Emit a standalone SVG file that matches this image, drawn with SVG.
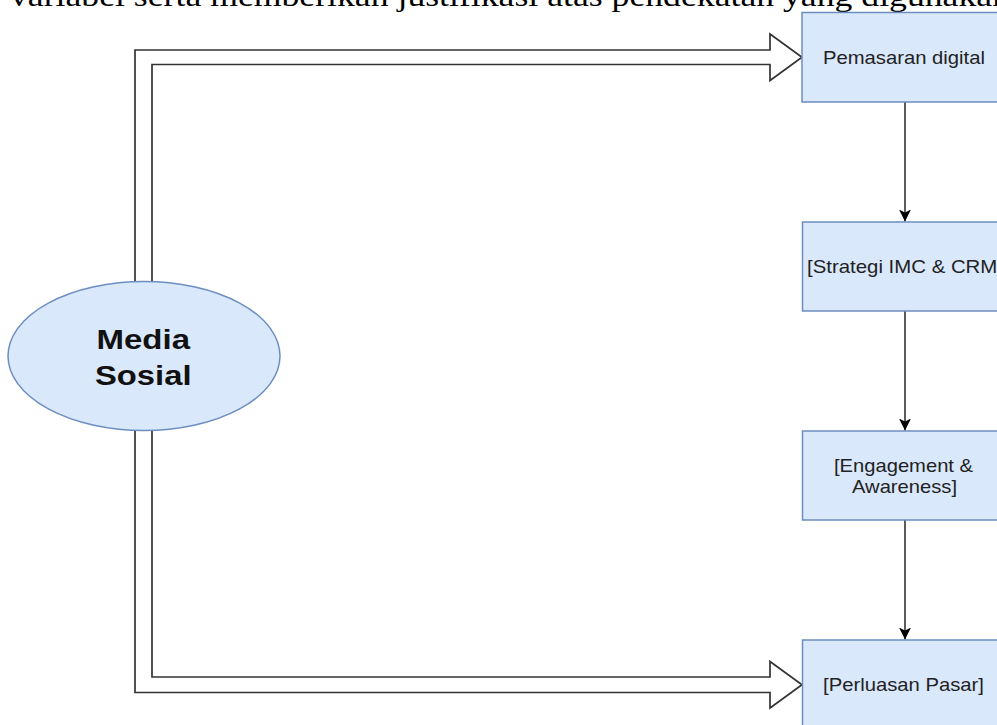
<svg xmlns="http://www.w3.org/2000/svg" width="997" height="725" viewBox="0 0 997 725">
<style>
.box{fill:#dae8fc;stroke:#6c8ebf;stroke-width:1.5}
.lbl{font-family:"Liberation Sans",Arial,sans-serif;font-size:19px;fill:#222}
.big{font-family:"Liberation Sans",Arial,sans-serif;font-size:28px;font-weight:bold;fill:#111}
.flex{fill:#fff;stroke:#333;stroke-width:1.7;stroke-linejoin:miter}
.conn{stroke:#333;stroke-width:1.6;fill:none}
</style>
<defs>
<marker id="ah" viewBox="0 0 12 12" refX="12" refY="6" markerWidth="12" markerHeight="12" markerUnits="userSpaceOnUse" orient="auto">
<path d="M0,0 L12,6 L0,12 L3,6 Z" fill="#000"/>
</marker>
</defs>
<rect width="997" height="725" fill="#fff"/>
<text x="10" y="6" font-family="'Liberation Serif','Times New Roman',serif" font-size="30" fill="#000" textLength="1000" lengthAdjust="spacingAndGlyphs">variabel serta memberikan justifikasi atas pendekatan yang digunakan</text>
<g id="connectors">
<path class="flex" d="M135,290 V50 H770 V34 L802,57.25 L770,80.5 V64.5 H152 V290"/>
<path class="flex" d="M152,420 V677 H770 V661.5 L802,684.75 L770,708 V692.5 H135 V420"/>
<line class="conn" x1="905" y1="102" x2="905" y2="221.5" marker-end="url(#ah)"/>
<line class="conn" x1="905" y1="311" x2="905" y2="430.5" marker-end="url(#ah)"/>
<line class="conn" x1="905" y1="520" x2="905" y2="639.5" marker-end="url(#ah)"/>
</g>
<g id="media-sosial">
<ellipse cx="144" cy="356" rx="136" ry="74.5" fill="#dae8fc" stroke="#6c8ebf" stroke-width="1.5"/>
<text class="big" x="96.5" y="348.5" textLength="93.5" lengthAdjust="spacingAndGlyphs">Media</text>
<text class="big" x="95" y="384.5" textLength="96.5" lengthAdjust="spacingAndGlyphs">Sosial</text>
</g>
<g id="pemasaran-digital">
<rect class="box" x="802" y="12.5" width="210" height="89.5"/>
<text class="lbl" x="823" y="63.5" textLength="162" lengthAdjust="spacingAndGlyphs">Pemasaran digital</text>
</g>
<g id="strategi">
<rect class="box" x="802.5" y="222" width="210" height="89"/>
<text class="lbl" x="807" y="272.5" textLength="196" lengthAdjust="spacingAndGlyphs">[Strategi IMC &amp; CRM]</text>
</g>
<g id="engagement">
<rect class="box" x="802.5" y="431" width="210" height="89"/>
<text class="lbl" x="834" y="471.5" textLength="139" lengthAdjust="spacingAndGlyphs">[Engagement &amp;</text>
<text class="lbl" x="852" y="493" textLength="105" lengthAdjust="spacingAndGlyphs">Awareness]</text>
</g>
<g id="perluasan">
<rect class="box" x="802.5" y="640" width="210" height="100"/>
<text class="lbl" x="823" y="690.5" textLength="161" lengthAdjust="spacingAndGlyphs">[Perluasan Pasar]</text>
</g>
</svg>
